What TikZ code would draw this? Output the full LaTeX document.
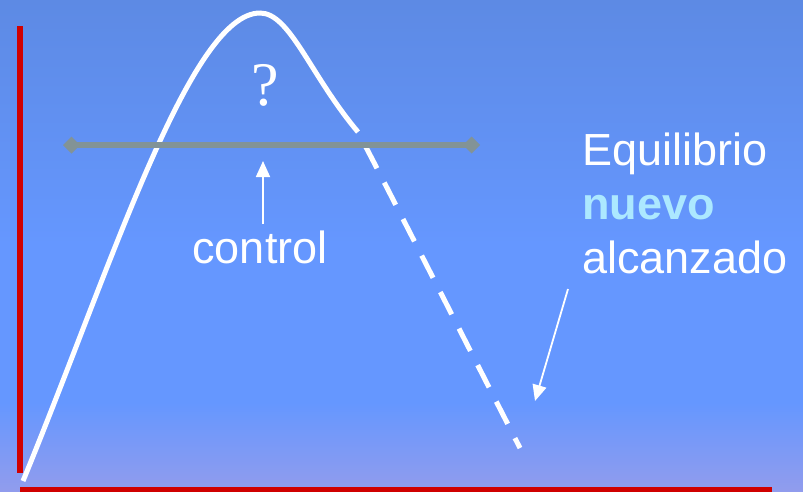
\documentclass[tikz,border=0pt]{standalone}
\usepackage{fontspec}
\setmainfont{Liberation Sans}
\newfontfamily\qfont{Liberation Serif}
\usetikzlibrary{arrows.meta}
\definecolor{bgtop}{RGB}{93,138,228}
\definecolor{bgmid}{RGB}{101,151,255}
\definecolor{bgbot}{RGB}{145,156,237}
\definecolor{axisred}{RGB}{208,0,0}
\definecolor{ctrlgray}{RGB}{130,147,150}
\definecolor{nuevocol}{RGB}{172,232,255}
% path bounding box maps to 25bp..75bp of the shading
\pgfdeclareverticalshading{bgshade}{100bp}{color(0bp)=(bgbot); color(25bp)=(bgbot); color(34bp)=(bgmid); color(50bp)=(bgmid); color(75bp)=(bgtop); color(100bp)=(bgtop)}
\tikzset{
  axisline/.style={draw=axisred, line width=6pt},
  curveline/.style={draw=white, line width=5pt},
  dashline/.style={draw=white, line width=5pt, dash pattern=on 25pt off 16pt, dash phase=25pt},
  ctrlline/.style={draw=ctrlgray, line width=6pt, {Diamond[length=17pt,width=17pt]}-{Diamond[length=17pt,width=17pt]}},
  thinarrow/.style={draw=white, line width=1.8pt, -{Triangle[length=16pt,width=14pt]}},
  lbl/.style={inner sep=0pt, text=white, font=\fontsize{45}{54}\selectfont},
}
\begin{document}
\begin{tikzpicture}[x=1pt,y=-1pt]
\useasboundingbox (0,0) rectangle (803,491);
\shade[shading=bgshade] (0,0) rectangle (803,491);
% axes
\draw[axisline] (20,26) -- (20,473);
\draw[axisred, line width=5pt] (20,489.5) -- (772,489.5);
% curve
\coordinate (start) at (23,481);
\coordinate (peak) at (260,13);
\coordinate (brk) at (358,132);
\coordinate (dend) at (520,448);
\draw[curveline] (start) .. controls (110,270) and (190,13) .. (peak)
  .. controls (290,13) and (310,75) .. (brk);
\draw[dashline] (brk) .. controls (378,170) .. (dend);
% control line
\coordinate (cl) at (63,145);
\coordinate (cr) at (480,145);
\draw[ctrlline] (cl) -- (cr);
% labels
\node[inner sep=0pt, anchor=base, text=white, font=\fontsize{62}{62}\selectfont\qfont] (q) at (265,105) {?};
\node[lbl, anchor=base] (control) at (260,263) {control};
\coordinate (ctip) at (263,161);
\draw[thinarrow] ([yshift=6pt]ctip |- control.north) -- (ctip);
\node[lbl, anchor=base west] (equ) at (582,165) {Equilibrio};
\node[lbl, anchor=base west, text=nuevocol, font=\fontsize{45}{54}\selectfont\bfseries] (nue) at (582,219) {nuevo};
\node[lbl, anchor=base west] (alc) at (582,273) {alcanzado};
\coordinate (etip) at (535,401);
\draw[thinarrow] ([shift={(-14pt,-16pt)}]alc.base west) -- (etip);
\end{tikzpicture}
\end{document}
